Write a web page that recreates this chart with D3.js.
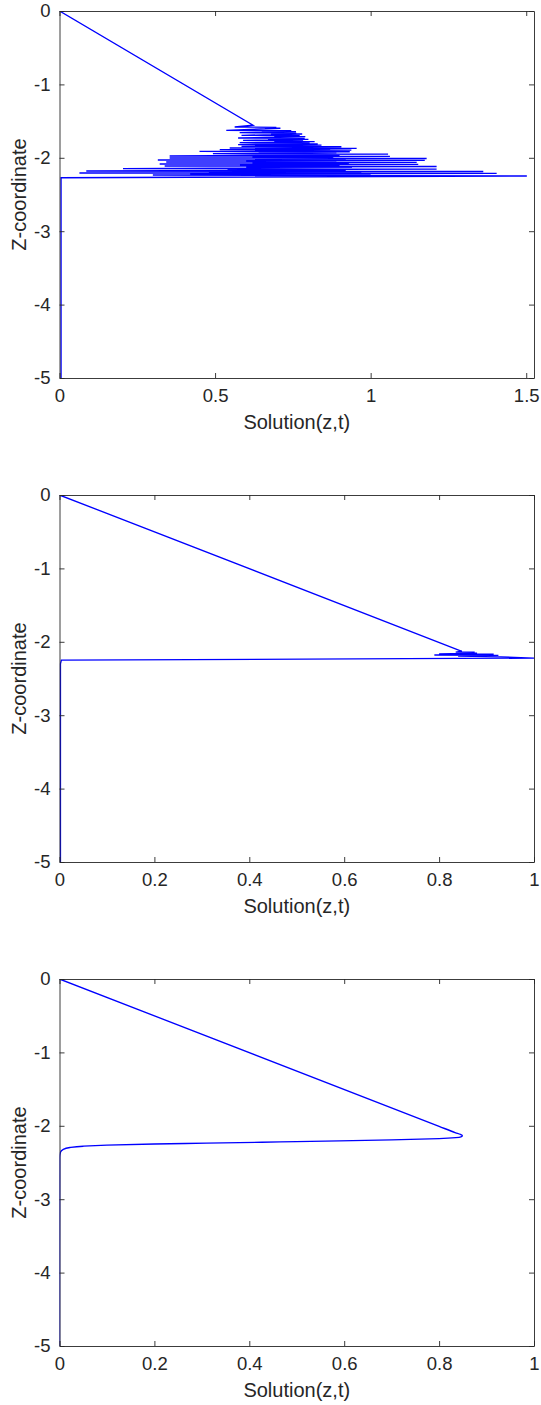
<!DOCTYPE html>
<html lang="en">
<head>
<meta charset="utf-8">
<title>Solution(z,t) profiles</title>
<script src="https://cdn.jsdelivr.net/npm/d3@7"></script>
<style>
  body { margin: 0; background: #fff; }
  svg { display: block; }
  .tick text { font-family: "Liberation Sans", Arial, sans-serif; font-size: 18.5px; fill: #262626; }
  .lbl { font-family: "Liberation Sans", Arial, sans-serif; font-size: 20px; fill: #262626; }
  .domain, .tick line { stroke: #262626; stroke-width: 0.9; }
</style>
</head>
<body>
<script>
// tick labels
var zTicks = [0, -1, -2, -3, -4, -5];
var uTicks1 = [0, 0.5, 1, 1.5];
var uTicks2 = [0, 0.2, 0.4, 0.6, 0.8, 1];
var uTicks3 = [0, 0.2, 0.4, 0.6, 0.8, 1];
var xLabel = "Solution(z,t)";
var yLabel = "Z-coordinate";

// panel 1 : oscillating solution, each row = outer left, outer right, inner left, inner right
var u1 = [0, 0.622,
  0.563, 0.697, 0.660, 0.710,
  0.536, 0.745, 0.650, 0.760,
  0.579, 0.761, 0.680, 0.780,
  0.585, 0.772, 0.690, 0.790,
  0.574, 0.788, 0.670, 0.800,
  0.590, 0.783, 0.690, 0.820,
  0.579, 0.804, 0.680, 0.830,
  0.574, 0.842, 0.700, 0.840,
  0.585, 0.906, 0.690, 0.860,
  0.547, 0.955, 0.680, 0.870,
  0.515, 0.938, 0.660, 0.860,
  0.450, 0.933, 0.640, 0.890,
  0.493, 1.056, 0.660, 0.900,
  0.354, 1.062, 0.620, 0.880,
  0.354, 1.180, 0.640, 0.920,
  0.316, 1.174, 0.600, 0.890,
  0.343, 1.148, 0.620, 0.930,
  0.322, 1.153, 0.580, 0.900,
  0.338, 1.212, 0.600, 0.940,
  0.204, 1.212, 0.540, 0.920,
  0.086, 1.362, 0.480, 0.970,
  0.064, 1.405, 0.420, 1.000,
  0.300, 1.502,
  0.005, 0.005, 0.005];
var z1 = [0, -1.557,
  -1.580, -1.586, -1.592, -1.598,
  -1.626, -1.632, -1.638, -1.644,
  -1.658, -1.664, -1.670, -1.676,
  -1.694, -1.700, -1.706, -1.712,
  -1.730, -1.736, -1.742, -1.748,
  -1.762, -1.768, -1.774, -1.780,
  -1.794, -1.800, -1.806, -1.812,
  -1.821, -1.827, -1.833, -1.839,
  -1.844, -1.850, -1.856, -1.862,
  -1.866, -1.872, -1.878, -1.884,
  -1.889, -1.895, -1.901, -1.907,
  -1.912, -1.918, -1.924, -1.930,
  -1.944, -1.950, -1.956, -1.962,
  -1.975, -1.981, -1.987, -1.993,
  -2.003, -2.009, -2.015, -2.021,
  -2.030, -2.036, -2.042, -2.048,
  -2.057, -2.063, -2.069, -2.075,
  -2.084, -2.090, -2.096, -2.102,
  -2.112, -2.118, -2.124, -2.130,
  -2.148, -2.154, -2.160, -2.166,
  -2.180, -2.186, -2.192, -2.198,
  -2.207, -2.213, -2.219, -2.225,
  -2.235, -2.248,
  -2.272, -2.300, -5];

// panel 2 : small oscillation near the front
var u2 = [0, 0.848, 0.835, 0.875, 0.840, 0.880, 0.800, 0.915, 0.790, 0.925,
  0.840, 0.930, 1.000, 0.004, 0.002, 0.002];
var z2 = [0, -2.129, -2.140, -2.143, -2.150, -2.155, -2.165, -2.170, -2.180, -2.185,
  -2.195, -2.205, -2.222, -2.250, -2.300, -5];

// panel 3 : smooth solution
var u3 = [0, 0.800, 0.835, 0.845, 0.849, 0.846, 0.835, 0.800, 0.700, 0.590,
  0.465, 0.310, 0.200, 0.100, 0.050, 0.022, 0.008, 0.002, 0.0005, 0];
var z3 = [0, -2.008, -2.095, -2.118, -2.135, -2.150, -2.161, -2.175, -2.192, -2.206,
  -2.220, -2.237, -2.248, -2.263, -2.278, -2.296, -2.320, -2.360, -2.430, -5];

var W = 541, H = 1405;
var left = 59.5, right = 534, ph = 367;
var panels = [
  {top: 11,  u: u1, z: z1, xmax: 1.525, ticks: uTicks1, curve: d3.curveLinear},
  {top: 495, u: u2, z: z2, xmax: 1,     ticks: uTicks2, curve: d3.curveLinear},
  {top: 979, u: u3, z: z3, xmax: 1,     ticks: uTicks3, curve: d3.curveMonotoneY}
];

var svg = d3.select("body").append("svg")
  .attr("width", W).attr("height", H);

var fmt = function(d) { return String(d); };

panels.forEach(function(p, i) {
  var x = d3.scaleLinear().domain([0, p.xmax]).range([left, right]);
  var y = d3.scaleLinear().domain([-5, 0]).range([p.top + ph, p.top]);

  var g = svg.append("g");

  g.append("clipPath").attr("id", "clip" + i)
    .append("rect")
    .attr("x", left).attr("y", p.top)
    .attr("width", right - left).attr("height", ph);

  var pts = p.u.map(function(d, k) { return [d, p.z[k]]; });
  var line = d3.line()
    .curve(p.curve)
    .x(function(d) { return x(d[0]); })
    .y(function(d) { return y(d[1]); });

  g.append("path")
    .datum(pts)
    .attr("clip-path", "url(#clip" + i + ")")
    .attr("d", line)
    .attr("fill", "none")
    .attr("stroke", "#0000ff")
    .attr("stroke-width", 1.35);

  // box with inward ticks
  g.append("g")
    .attr("transform", "translate(0," + (p.top + ph) + ")")
    .call(d3.axisBottom(x).tickValues(p.ticks).tickFormat(fmt).tickSizeInner(-5).tickSizeOuter(0).tickPadding(11));
  g.append("g")
    .attr("transform", "translate(0," + p.top + ")")
    .call(d3.axisTop(x).tickValues(p.ticks).tickFormat("").tickSizeInner(-5).tickSizeOuter(0));
  g.append("g")
    .attr("transform", "translate(" + left + ",0)")
    .call(d3.axisLeft(y).tickValues(zTicks).tickFormat(fmt).tickSizeInner(-5).tickSizeOuter(0).tickPadding(9));
  g.append("g")
    .attr("transform", "translate(" + right + ",0)")
    .call(d3.axisRight(y).tickValues(zTicks).tickFormat("").tickSizeInner(-5).tickSizeOuter(0));

  g.append("text").attr("class", "lbl")
    .attr("x", (left + right) / 2)
    .attr("y", p.top + ph + 51)
    .attr("text-anchor", "middle")
    .text(xLabel);

  g.append("text").attr("class", "lbl")
    .attr("transform", "translate(26," + (p.top + ph / 2) + ") rotate(-90)")
    .attr("text-anchor", "middle")
    .text(yLabel);
});
</script>
</body>
</html>
